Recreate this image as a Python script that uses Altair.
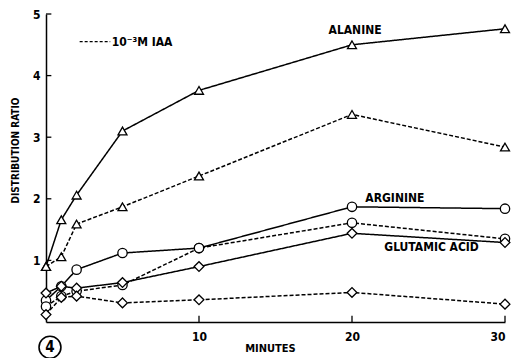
import altair as alt
import pandas as pd

minutes = [0, 1, 2, 5, 10, 20, 30]
alanine = [0.9, 1.66, 2.06, 3.1, 3.76, 4.5, 4.76]
alanine_iaa = [0.9, 1.06, 1.59, 1.87, 2.37, 3.37, 2.84]
arginine = [0.35, 0.58, 0.85, 1.12, 1.2, 1.87, 1.84]
arginine_iaa = [0.25, 0.42, 0.5, 0.6, 1.2, 1.61, 1.35]
glutamic = [0.47, 0.58, 0.55, 0.64, 0.9, 1.44, 1.29]
glutamic_iaa = [0.12, 0.4, 0.42, 0.31, 0.36, 0.48, 0.29]

series = [
    ("alanine", "control", "triangle-up", alanine),
    ("alanine_iaa", "iaa", "triangle-up", alanine_iaa),
    ("arginine", "control", "circle", arginine),
    ("arginine_iaa", "iaa", "circle", arginine_iaa),
    ("glutamic", "control", "diamond", glutamic),
    ("glutamic_iaa", "iaa", "diamond", glutamic_iaa),
]
rows = []
for name, cond, shape, vals in series:
    for m, v in zip(minutes, vals):
        rows.append({"series": name, "cond": cond, "shape": shape, "minutes": m, "ratio": v})
df = pd.DataFrame(rows)

FONT = "DejaVu Sans Condensed"

xscale = alt.Scale(domain=[0, 30], nice=False, zero=False)
yscale = alt.Scale(domain=[0, 5], nice=False)

x_enc = alt.X("minutes:Q", scale=xscale,
              axis=alt.Axis(values=[10, 20, 30], format="d", title="MINUTES", grid=False, tickSize=0,
                            labelPadding=9, titleX=224, titleY=26, titleBaseline="middle",
                            titleAnchor="start", titleAlign="center"))
y_enc = alt.Y("ratio:Q", scale=yscale,
              axis=alt.Axis(values=[1, 2, 3, 4, 5], format="d", title="DISTRIBUTION RATIO", grid=False,
                            tickSize=0, labelPadding=6, titleX=-31, titleY=136,
                            titleAlign="center", titleBaseline="middle", titleFontSize=10))

base = alt.Chart(df)

lines = base.mark_line(color="black", strokeWidth=1.5).encode(
    x=x_enc, y=y_enc,
    detail="series:N",
    strokeDash=alt.StrokeDash("cond:N", scale=alt.Scale(domain=["control", "iaa"], range=[[1, 0], [4, 2]]), legend=None),
)

points = base.mark_point(filled=False, fill="white", fillOpacity=1, stroke="black", strokeWidth=1.3, opacity=1).encode(
    x="minutes:Q", y="ratio:Q",
    shape=alt.Shape("shape:N", scale=None),
    size=alt.Size("shape:N", scale=alt.Scale(domain=["triangle-up", "circle", "diamond"], range=[80, 95, 130]), legend=None),
)

# inward ticks
xt = pd.DataFrame({"minutes": [10, 20, 30], "y0": [0, 0, 0], "y1": [0.1, 0.1, 0.1]})
xticks = alt.Chart(xt).mark_rule(color="black", strokeWidth=1.3).encode(
    x=alt.X("minutes:Q", scale=xscale), y=alt.Y("y0:Q", scale=yscale), y2="y1:Q")
yt = pd.DataFrame({"ratio": [1, 2, 3, 4, 5], "x0": [0] * 5, "x1": [0.35] * 5})
yticks = alt.Chart(yt).mark_rule(color="black", strokeWidth=1.3).encode(
    y=alt.Y("ratio:Q", scale=yscale), x=alt.X("x0:Q", scale=xscale), x2="x1:Q")

# legend sample
leg_line = pd.DataFrame({"minutes": [2.2, 4.2], "ratio": [4.55, 4.55]})
legend_line = alt.Chart(leg_line).mark_line(color="black", strokeWidth=1.3, strokeDash=[3, 2]).encode(
    x=alt.X("minutes:Q", scale=xscale), y=alt.Y("ratio:Q", scale=yscale))
leg_text = pd.DataFrame({"minutes": [4.3], "ratio": [4.55], "label": ["10⁻³M IAA"]})
legend_text = alt.Chart(leg_text).mark_text(align="left", baseline="middle", font=FONT, fontSize=12,
                                            fontWeight="bold", color="black").encode(
    x=alt.X("minutes:Q", scale=xscale), y=alt.Y("ratio:Q", scale=yscale), text="label:N")

lab = pd.DataFrame({
    "minutes": [20.2, 22.8, 25.2],
    "ratio": [4.74, 2.02, 1.21],
    "label": ["ALANINE", "ARGININE", "GLUTAMIC ACID"],
})
labels = alt.Chart(lab).mark_text(align="center", baseline="middle", font=FONT, fontSize=12,
                                  fontWeight="bold", color="black").encode(
    x=alt.X("minutes:Q", scale=xscale), y=alt.Y("ratio:Q", scale=yscale), text="label:N")

fig = pd.DataFrame({"minutes": [0.26], "ratio": [-0.41], "label": ["4"]})
fig_circle = alt.Chart(fig).mark_point(shape="circle", size=480, stroke="black", strokeWidth=1.6,
                                       filled=False, opacity=1).encode(
    x=alt.X("minutes:Q", scale=xscale), y=alt.Y("ratio:Q", scale=yscale))
fig_text = alt.Chart(fig).mark_text(font=FONT, fontSize=15, fontWeight="bold", color="black",
                                    baseline="middle", align="center").encode(
    x=alt.X("minutes:Q", scale=xscale), y=alt.Y("ratio:Q", scale=yscale), text="label:N")

chart = alt.layer(lines, points, xticks, yticks, legend_line, legend_text, labels, fig_circle, fig_text).properties(
    width=459, height=308,
    autosize=alt.AutoSizeParams(type="none"),
    padding={"left": 38, "top": 6, "right": 9, "bottom": 36},
).configure_view(stroke=None).configure_axis(
    domainColor="black", domainWidth=1.5, labelColor="black", titleColor="black",
    labelFont=FONT, titleFont=FONT, labelFontWeight="bold", titleFontWeight="bold",
    labelFontSize=12, titleFontSize=11,
)

chart.save("out.html", embed_options={"renderer": "svg", "actions": False})
